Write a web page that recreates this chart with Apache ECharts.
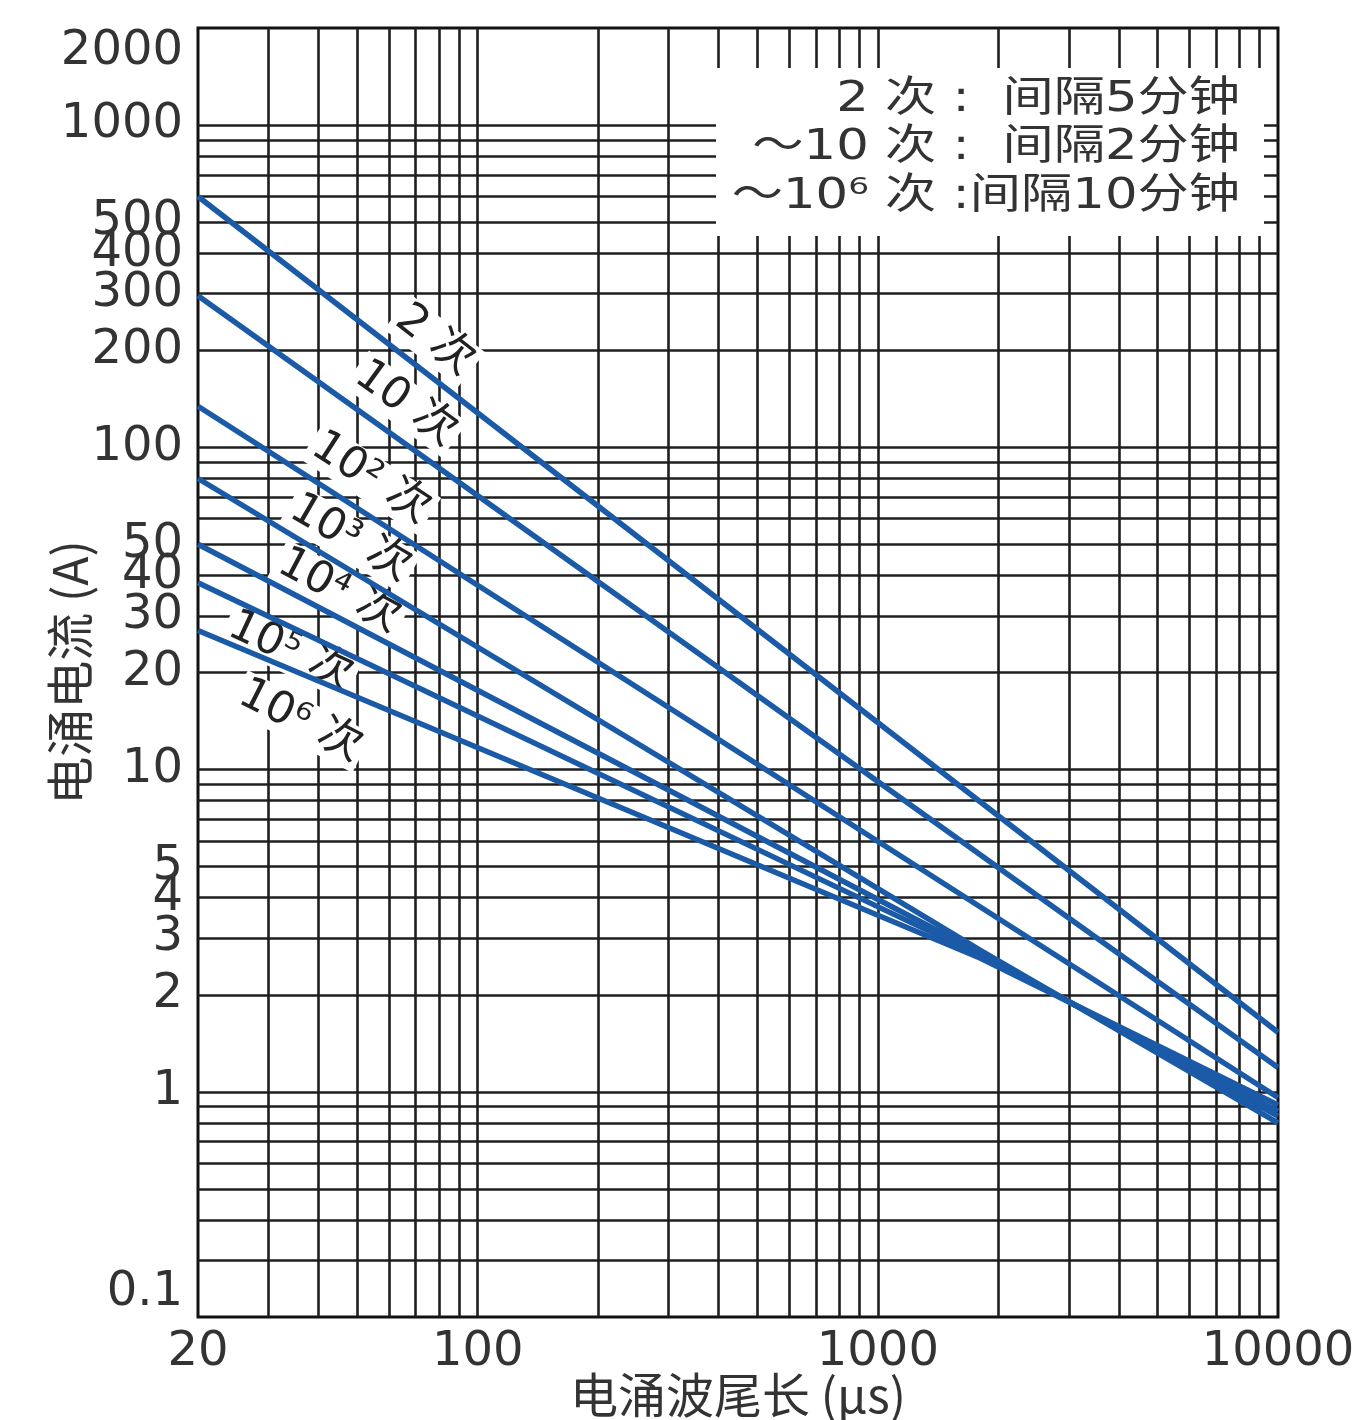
<!DOCTYPE html>
<html>
<head>
<meta charset="utf-8">
<script src="https://cdn.jsdelivr.net/npm/echarts@6/dist/echarts.min.js"></script>
<style>
html,body{margin:0;padding:0;background:#fff;}
#chart{width:1358px;height:1420px;}
</style>
</head>
<body>
<div id="chart"></div>
<script>
// ---- data ----
const seriesNames = ['2 次', '10 次', '10² 次', '10³ 次', '10⁴ 次', '10⁵ 次', '10⁶ 次'];
const s2   = [[20, 600], [10000, 1.53]];
const s10  = [[20, 295], [10000, 1.19]];
const s1e2 = [[20, 134], [10000, 0.96]];
const s1e3 = [[20, 80], [1800, 2.75], [10000, 0.80]];
const s1e4 = [[20, 50], [1800, 2.70], [10000, 0.84]];
const s1e5 = [[20, 38], [1800, 2.65], [10000, 0.87]];
const s1e6 = [[20, 27], [1800, 2.60], [10000, 0.91]];
const seriesData = [s2, s10, s1e2, s1e3, s1e4, s1e5, s1e6];

// curve label anchors (data units) and rotation
const labelAnchors = [[78, 214], [66, 136], [54, 80], [48, 52], [45, 35.7], [34, 23.2], [36, 14.1]];
const labelRotate = [-38, -36, -33, -30, -28, -25, -27];

const xTickValues = [20, 100, 1000, 10000];
const yTickValues = [0.2, 1, 2, 3, 4, 5, 10, 20, 30, 40, 50, 100, 200, 300, 400, 500, 1000, 2000];
const yTickLabels = ['0.1', '1', '2', '3', '4', '5', '10', '20', '30', '40', '50', '100', '200', '300', '400', '500', '1000', '2000'];

const xGridValues = [30, 40, 50, 60, 70, 80, 90, 100, 200, 300, 400, 500, 600, 700, 800, 900,
  1000, 2000, 3000, 4000, 5000, 6000, 7000, 8000, 9000];
const yGridValues = [0.3, 0.4, 0.5, 0.6, 0.7, 0.8, 0.9, 1, 2, 3, 4, 5, 6, 7, 8, 9,
  10, 20, 30, 40, 50, 60, 70, 80, 90, 100, 200, 300, 400, 500, 600, 700, 800, 900, 1000];

const legendLines = ['2 次 :  间隔5分钟', '～10 次 :  间隔2分钟', '～10⁶ 次 :间隔10分钟'];

// ---- chart ----
const chart = echarts.init(document.getElementById('chart'), null, {renderer: 'canvas'});
const numFont = "'DejaVu Sans', 'Noto Sans CJK SC', sans-serif";
const cjkFont = "'Noto Sans CJK SC', 'DejaVu Sans', sans-serif";
const gridColor = '#1e1e1e';
const lineColor = '#1b5aa6';

const series = [];
// grid lines via markLine
series.push({
  type: 'line', data: [[20, 0.2]], symbol: 'none', lineStyle: {opacity: 0}, z: 1, silent: true,
  markLine: {
    silent: true, z: 1, symbol: ['none', 'none'], label: {show: false},
    lineStyle: {color: gridColor, width: 2.6, type: 'solid'},
    emphasis: {disabled: true},
    data: xGridValues.map(v => ({xAxis: v})).concat(yGridValues.map(v => ({yAxis: v})))
  }
});
// curve labels
series.push({
  type: 'scatter', symbolSize: 0, z: 4, silent: true,
  itemStyle: {opacity: 1},
  emphasis: {disabled: true},
  data: labelAnchors.map((p, i) => ({
    value: p,
    label: {
      show: true, position: 'inside', formatter: seriesNames[i], rotate: labelRotate[i],
      fontSize: 44, fontFamily: numFont, color: '#222', opacity: 1,
      backgroundColor: '#ffffff', padding: [0, 4]
    }
  }))
});
seriesData.forEach((d, i) => {
  series.push({
    name: seriesNames[i], type: 'line', data: d, symbol: 'none', z: 5, silent: true,
    lineStyle: {color: lineColor, width: 5.5}
  });
});

const legendStyle = {fontSize: 42, fontFamily: numFont, fill: '#333', align: 'right', verticalAlign: 'middle'};

chart.setOption({
  animation: false,
  backgroundColor: '#fff',
  grid: {left: 198, right: 80, top: 28, bottom: 103, show: true, borderColor: '#111', borderWidth: 3,
    backgroundColor: 'transparent', containLabel: false, outerBoundsMode: 'none'},
  xAxis: {
    type: 'log', logBase: 10, min: 20, max: 10000,
    name: '电涌波尾长 (μs)', nameLocation: 'middle', nameGap: 54, nameMoveOverlap: false,
    nameTextStyle: {fontSize: 48, fontFamily: cjkFont, color: '#333'},
    axisLine: {show: false}, axisTick: {show: false}, splitLine: {show: false}, minorSplitLine: {show: false},
    axisLabel: {customValues: xTickValues, fontSize: 48, fontFamily: numFont, color: '#333', margin: 12,
      formatter: v => String(Math.round(v))}
  },
  yAxis: {
    type: 'log', logBase: 10, min: 0.2, max: 2000,
    name: '电涌电流 (A)', nameLocation: 'middle', nameGap: 104, nameMoveOverlap: false,
    nameTextStyle: {fontSize: 48, fontFamily: cjkFont, color: '#333'},
    axisLine: {show: false}, axisTick: {show: false}, splitLine: {show: false},
    axisLabel: {customValues: yTickValues, fontSize: 48, fontFamily: numFont, color: '#333', margin: 15,
      verticalAlignMaxLabel: 'top', verticalAlignMinLabel: 'bottom',
      formatter: v => {
        const idx = yTickValues.findIndex(t => Math.abs(t - v) / t < 1e-6);
        return idx >= 0 ? yTickLabels[idx] : '';
      }}
  },
  graphic: [
    {type: 'rect', z: 3, shape: {x: 716, y: 68, width: 548, height: 168}, style: {fill: '#fff'}},
    {type: 'text', z: 6, x: 1240, y: 100, scaleX: 1.22, style: Object.assign({text: legendLines[0]}, legendStyle)},
    {type: 'text', z: 6, x: 1240, y: 148, scaleX: 1.22, style: Object.assign({text: legendLines[1]}, legendStyle)},
    {type: 'text', z: 6, x: 1240, y: 197, scaleX: 1.22, style: Object.assign({text: legendLines[2]}, legendStyle)}
  ],
  series: series
});
</script>
</body>
</html>
